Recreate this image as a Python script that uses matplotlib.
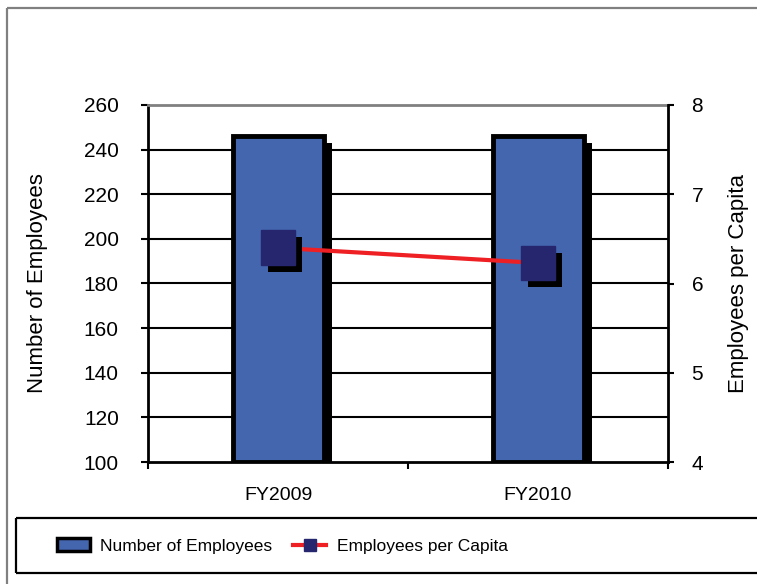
import matplotlib
matplotlib.use("Agg")
import matplotlib.pyplot as plt
import matplotlib.patheffects as pe
from matplotlib.patches import Patch
from matplotlib.lines import Line2D
import numpy as np

plt.rcParams["font.family"] = ["Liberation Sans", "DejaVu Sans"]

years = ["FY2009", "FY2010"]
employees = [246, 246]
per_capita = [6.40, 6.23]
left_ticks = [100, 120, 140, 160, 180, 200, 220, 240, 260]
right_ticks = [4, 5, 6, 7, 8]

BAR_BLUE = "#4466AF"
NAVY = "#25266E"
RED = "#EE2024"

W, H = 758, 584
fig = plt.figure(figsize=(W / 100, H / 100), dpi=100)


def px_line(xs, ys, **kw):
    # straight line given in pixel coordinates from the top-left corner
    fig.add_artist(Line2D([v / W for v in xs], [1 - v / H for v in ys],
                          transform=fig.transFigure, solid_capstyle="butt", **kw))


# outer chart frame: only left and top edges fall inside the image
px_line([7, 7], [H, 8], color="#808080", linewidth=1.6)
px_line([7, W - 1], [8, 8], color="#808080", linewidth=1.6)

ax = fig.add_axes([148 / W, (H - 462) / H, 520 / W, 357 / H])
ax2 = ax.twinx()

x = np.arange(len(years))
shadow = [pe.SimplePatchShadow(offset=(6, -5), shadow_rgbFace="black", alpha=1.0), pe.Normal()]
ax.bar(x, [e - 100 for e in employees], bottom=100, width=0.35, color=BAR_BLUE,
       edgecolor="black", linewidth=3.5, zorder=3, path_effects=shadow)

ax.set_xlim(-0.5, 1.5)
ax.set_ylim(100, 260)
ax.set_yticks(left_ticks)
ax.yaxis.grid(True, color="black", linewidth=1.5, zorder=0)
ax.set_axisbelow(True)
ax.get_ygridlines()[-1].set_visible(False)
ax.get_ygridlines()[0].set_visible(False)

ax.set_xticks([-0.5, 0.5, 1.5])
ax.set_xticklabels([])
ax.set_xticks(x, minor=True)
ax.set_xticklabels(years, minor=True, fontsize=14)
ax.tick_params(axis="x", which="major", direction="out", length=5, width=1.5)
ax.tick_params(axis="x", which="minor", length=0, pad=18)
ax.tick_params(axis="y", direction="out", length=5, width=1.5, labelsize=15, pad=16)
ax.set_ylabel("Number of Employees", fontsize=16, labelpad=26)

for side in ["left", "bottom"]:
    ax.spines[side].set_color("black")
    ax.spines[side].set_linewidth(2)
ax.spines["top"].set_color("#808080")
ax.spines["top"].set_linewidth(2)
ax.spines["right"].set_visible(False)

ax2.plot(x, per_capita, color=RED, linewidth=3, zorder=4)
ax2.plot(x, per_capita, linestyle="none", marker="s", markersize=25, color=NAVY,
         markeredgecolor=NAVY, zorder=5,
         path_effects=[pe.SimplePatchShadow(offset=(5, -5), shadow_rgbFace="black", alpha=1.0),
                       pe.Normal()])
ax2.set_ylim(4, 8)
ax2.set_yticks(right_ticks)
ax2.tick_params(axis="y", direction="out", length=4, width=1.5, labelsize=15, pad=13)
ax2.set_ylabel("Employees per Capita", fontsize=16, labelpad=18)
for side in ["left", "top", "bottom"]:
    ax2.spines[side].set_visible(False)
ax2.spines["right"].set_color("black")
ax2.spines["right"].set_linewidth(2)

# legend box along the bottom, open on the right
px_line([16, W - 1], [518, 518], color="black", linewidth=1.6)
px_line([16, 16], [518, 573], color="black", linewidth=1.6)
px_line([16, W - 1], [573, 573], color="black", linewidth=1.6)
handles = [
    Patch(facecolor=BAR_BLUE, edgecolor="black", linewidth=2.5),
    Line2D([], [], color=RED, linewidth=3, marker="s", markersize=9,
           markerfacecolor=NAVY, markeredgecolor=NAVY),
]
fig.legend(handles, ["Number of Employees", "Employees per Capita"], loc="center left",
           bbox_to_anchor=(57 / W, (H - 546) / H), ncol=2, frameon=False, fontsize=12.5,
           handlelength=1.9, handleheight=0.8, handletextpad=0.6, columnspacing=1.2,
           borderpad=0, borderaxespad=0)

fig.savefig("out.png", dpi=100)
